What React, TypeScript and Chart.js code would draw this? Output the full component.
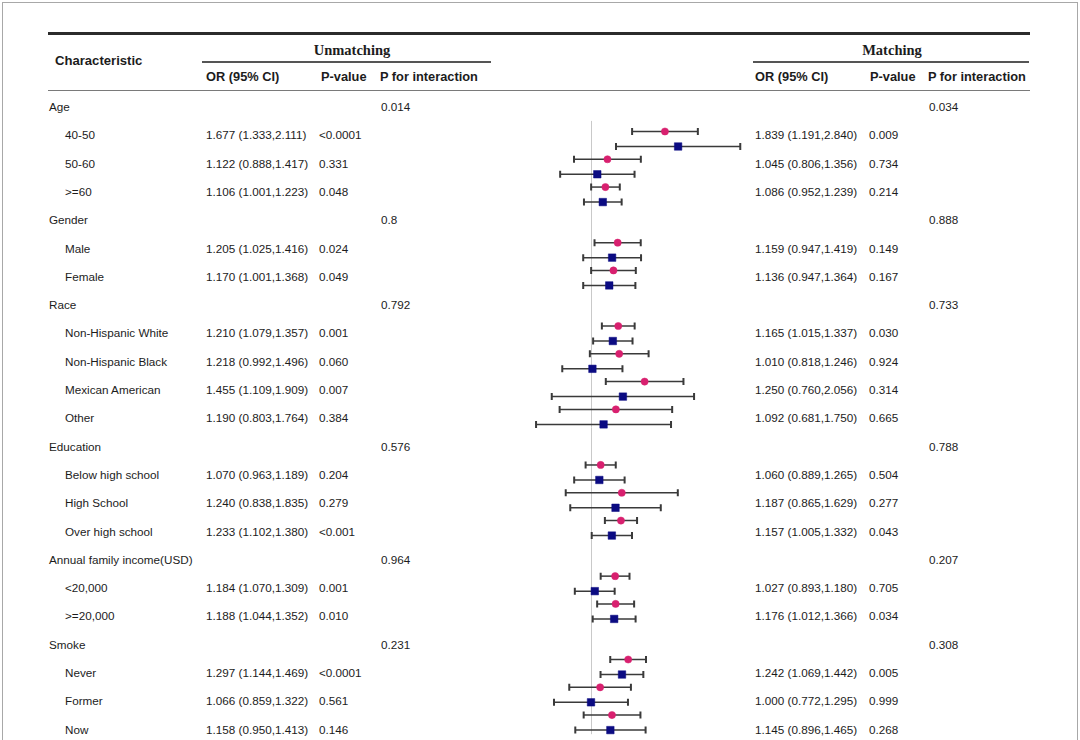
import React, { useEffect, useRef } from "react";
import { Chart, registerables } from "chart.js";

Chart.register(...registerables);

// ---------------- DATA ----------------
const groups = ["Age", "Gender", "Race", "Education", "Annual family income(USD)", "Smoke"];
const subgroups = [
  ["40-50", "50-60", ">=60"],
  ["Male", "Female"],
  ["Non-Hispanic White", "Non-Hispanic Black", "Mexican American", "Other"],
  ["Below high school", "High School", "Over high school"],
  ["<20,000", ">=20,000"],
  ["Never", "Former", "Now"],
];

// Unmatching
const unOR = [1.677, 1.122, 1.106, 1.205, 1.17, 1.21, 1.218, 1.455, 1.19, 1.07, 1.24, 1.233, 1.184, 1.188, 1.297, 1.066, 1.158];
const unLo = [1.333, 0.888, 1.001, 1.025, 1.001, 1.079, 0.992, 1.109, 0.803, 0.963, 0.838, 1.102, 1.07, 1.044, 1.144, 0.859, 0.95];
const unHi = [2.111, 1.417, 1.223, 1.416, 1.368, 1.357, 1.496, 1.909, 1.764, 1.189, 1.835, 1.38, 1.309, 1.352, 1.469, 1.322, 1.413];
const unP = ["<0.0001", "0.331", "0.048", "0.024", "0.049", "0.001", "0.060", "0.007", "0.384", "0.204", "0.279", "<0.001", "0.001", "0.010", "<0.0001", "0.561", "0.146"];
const unPint = ["0.014", "0.8", "0.792", "0.576", "0.964", "0.231"];

// Matching
const maOR = [1.839, 1.045, 1.086, 1.159, 1.136, 1.165, 1.01, 1.25, 1.092, 1.06, 1.187, 1.157, 1.027, 1.176, 1.242, 1.0, 1.145];
const maLo = [1.191, 0.806, 0.952, 0.947, 0.947, 1.015, 0.818, 0.76, 0.681, 0.889, 0.865, 1.005, 0.893, 1.012, 1.069, 0.772, 0.896];
const maHi = [2.84, 1.356, 1.239, 1.419, 1.364, 1.337, 1.246, 2.056, 1.75, 1.265, 1.629, 1.332, 1.18, 1.366, 1.442, 1.295, 1.465];
const maP = ["0.009", "0.734", "0.214", "0.149", "0.167", "0.030", "0.924", "0.314", "0.665", "0.504", "0.277", "0.043", "0.705", "0.034", "0.005", "0.999", "0.268"];
const maPint = ["0.034", "0.888", "0.733", "0.788", "0.207", "0.308"];

// ---------------- LAYOUT ----------------
const ROW_TOP = 107;
const ROW_STEP = 28.3;
const CANVAS_LEFT = 490;
const CANVAS_TOP = 95;
const CANVAS_W = 270;
const CANVAS_H = 645;
const X_LEFT_PX = 500; // page x of chart area left
const X_RIGHT_PX = 750;
const REF_PX = 591; // page x of OR = 1
const PX_PER_LN = 143;

const FONT = "Arial, 'Liberation Sans', Helvetica, sans-serif";
const TEXT = "#1c1c1c";

type Row = { label: string; group: boolean; gi: number; si: number };
const rows: Row[] = [];
{
  let k = 0;
  groups.forEach((g, gi) => {
    rows.push({ label: g, group: true, gi, si: -1 });
    subgroups[gi].forEach((s) => {
      rows.push({ label: s, group: false, gi, si: k });
      k++;
    });
  });
}

const fmt = (v: number) => v.toFixed(3);
const ciText = (o: number, l: number, h: number) => `${fmt(o)} (${fmt(l)},${fmt(h)})`;

const errorBarPlugin = {
  id: "errorBars",
  beforeDatasetsDraw(chart: any) {
    const { ctx, chartArea } = chart;
    const xs = chart.scales.x;
    const ys = chart.scales.y;
    ctx.save();
    const xr = Math.round(xs.getPixelForValue(1)) + 0.5;
    ctx.strokeStyle = "#c9c9c9";
    ctx.lineWidth = 1;
    ctx.beginPath();
    ctx.moveTo(xr, ys.getPixelForValue(0.3));
    ctx.lineTo(xr, chartArea.bottom);
    ctx.stroke();
    chart.data.datasets.forEach((ds: any) => {
      ds.data.forEach((p: any) => {
        const yp = ys.getPixelForValue(p.y);
        const xl = xs.getPixelForValue(p.lo);
        const xh = xs.getPixelForValue(p.hi);
        ctx.strokeStyle = "#3a3a3a";
        ctx.lineWidth = 1.5;
        ctx.beginPath();
        ctx.moveTo(xl, yp);
        ctx.lineTo(xh, yp);
        ctx.stroke();
        ctx.lineWidth = 2;
        ctx.beginPath();
        ctx.moveTo(xl, yp - 3.5);
        ctx.lineTo(xl, yp + 3.5);
        ctx.moveTo(xh, yp - 3.5);
        ctx.lineTo(xh, yp + 3.5);
        ctx.stroke();
      });
    });
    ctx.restore();
  },
};

function ForestChart() {
  const ref = useRef<HTMLCanvasElement | null>(null);
  useEffect(() => {
    if (!ref.current) return;
    const unData: any[] = [];
    const maData: any[] = [];
    rows.forEach((r, ri) => {
      if (r.group) return;
      const i = r.si;
      unData.push({ x: unOR[i], y: ri - 0.32, lo: unLo[i], hi: unHi[i] });
      maData.push({ x: maOR[i], y: ri + 0.22, lo: maLo[i], hi: maHi[i] });
    });
    const padL = X_LEFT_PX - CANVAS_LEFT;
    const padR = CANVAS_LEFT + CANVAS_W - X_RIGHT_PX;
    const xMin = Math.exp((X_LEFT_PX - REF_PX) / PX_PER_LN);
    const xMax = Math.exp((X_RIGHT_PX - REF_PX) / PX_PER_LN);
    const yMin = (CANVAS_TOP - ROW_TOP) / ROW_STEP;
    const yMax = yMin + CANVAS_H / ROW_STEP;
    const chart = new Chart(ref.current, {
      type: "scatter",
      data: {
        datasets: [
          {
            label: "Unmatching",
            data: unData,
            pointStyle: "circle",
            pointRadius: 3.6,
            backgroundColor: "#d8206f",
            borderColor: "#d8206f",
            borderWidth: 0.5,
            clip: false,
          } as any,
          {
            label: "Matching",
            data: maData,
            pointStyle: "rect",
            pointRadius: 5.3,
            backgroundColor: "#0b0b82",
            borderColor: "#0b0b82",
            borderWidth: 0.5,
            clip: false,
          } as any,
        ],
      },
      options: {
        animation: false,
        responsive: true,
        maintainAspectRatio: false,
        layout: { padding: { left: padL, right: padR, top: 0, bottom: 0 } },
        plugins: { legend: { display: false }, tooltip: { enabled: false } },
        scales: {
          x: { type: "logarithmic", min: xMin, max: xMax, bounds: "data", display: false },
          y: { type: "linear", min: yMin, max: yMax, reverse: true, display: false },
        },
      } as any,
      plugins: [errorBarPlugin],
    });
    return () => chart.destroy();
  }, []);
  return (
    <div style={{ position: "absolute", left: CANVAS_LEFT, top: CANVAS_TOP, width: CANVAS_W, height: CANVAS_H }}>
      <canvas ref={ref} />
    </div>
  );
}

function T({ x, y, children, bold, size, serif, center }: any) {
  const lh = 16;
  return (
    <div
      style={{
        position: "absolute",
        left: center ? x - 150 : x,
        width: center ? 300 : undefined,
        textAlign: center ? "center" : "left",
        top: y - lh / 2,
        lineHeight: lh + "px",
        fontSize: size || 11.7,
        fontWeight: bold ? 700 : 400,
        fontFamily: serif ? "'Times New Roman', 'Liberation Serif', serif" : FONT,
        color: TEXT,
        whiteSpace: "nowrap",
      }}
    >
      {children}
    </div>
  );
}

function HLine({ x1, x2, y, h, color }: any) {
  return (
    <div style={{ position: "absolute", left: x1, top: y - h / 2, width: x2 - x1, height: h, background: color }} />
  );
}

export default function App() {
  return (
    <div style={{ position: "fixed", left: 0, top: 0, width: 1080, height: 740, background: "#fff", overflow: "hidden" }}>
      <div style={{ position: "absolute", left: 2, top: 2, width: 1074, height: 760, border: "1px solid #a8a8a8" }} />
      <HLine x1={48} x2={1030} y={33} h={3} color="#2b2b2b" />
      <HLine x1={202} x2={491} y={62} h={1.5} color="#555" />
      <HLine x1={753} x2={1029} y={62} h={1.5} color="#555" />
      <HLine x1={48} x2={1030} y={90.5} h={1.6} color="#7a7a7a" />

      <T x={55} y={61} bold size={13.1}>Characteristic</T>
      <T x={352} y={50} bold serif size={14.5} center>Unmatching</T>
      <T x={892} y={50} bold serif size={14.5} center>Matching</T>
      <T x={206} y={77} bold size={12.8}>OR (95% CI)</T>
      <T x={321} y={77} bold size={12.8}>P-value</T>
      <T x={380} y={77} bold size={12.8}>P for interaction</T>
      <T x={755} y={77} bold size={12.8}>OR (95% CI)</T>
      <T x={870} y={77} bold size={12.8}>P-value</T>
      <T x={928} y={77} bold size={12.8}>P for interaction</T>

      {rows.map((r, ri) => {
        const y = ROW_TOP + ri * ROW_STEP;
        if (r.group) {
          return (
            <React.Fragment key={ri}>
              <T x={49} y={y}>{r.label}</T>
              <T x={381} y={y}>{unPint[r.gi]}</T>
              <T x={929} y={y}>{maPint[r.gi]}</T>
            </React.Fragment>
          );
        }
        const i = r.si;
        return (
          <React.Fragment key={ri}>
            <T x={65} y={y}>{r.label}</T>
            <T x={206} y={y}>{ciText(unOR[i], unLo[i], unHi[i])}</T>
            <T x={319} y={y}>{unP[i]}</T>
            <T x={755} y={y}>{ciText(maOR[i], maLo[i], maHi[i])}</T>
            <T x={869} y={y}>{maP[i]}</T>
          </React.Fragment>
        );
      })}

      <ForestChart />
    </div>
  );
}
